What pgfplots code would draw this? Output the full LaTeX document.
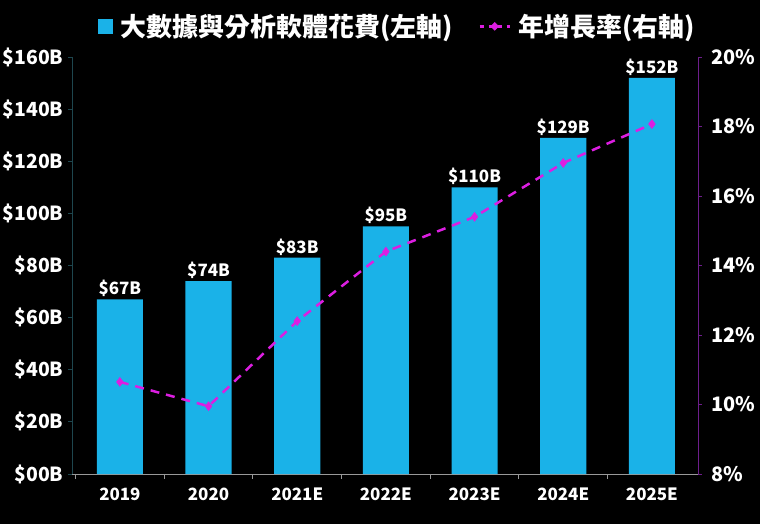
\documentclass[border=0pt]{standalone}
\usepackage{pgfplots}
\pgfplotsset{compat=1.18}
\usepackage{fontspec}
\setmainfont{Noto Sans CJK TC}
\definecolor{barblue}{RGB}{26,178,232}
\definecolor{growth}{RGB}{220,30,225}
\definecolor{leftax}{RGB}{30,70,78}
\definecolor{rightax}{RGB}{110,30,140}

\pgfplotstableread{
x spend
0 67
1 74
2 83
3 95
4 110
5 129
6 152
}\spendtab

\pgfplotstableread{
x rate
0 10.65
1 9.95
2 12.4
3 14.4
4 15.4
5 16.95
6 18.07
}\ratetab

\begin{document}
\begin{tikzpicture}
\fill[black] (-72bp,-50bp) rectangle (688bp,474bp);

\begin{axis}[
    at={(0,0)}, anchor=south west,
    scale only axis,
    width=626bp, height=417bp,
    xmin=-0.54, xmax=6.52,
    ymin=0, ymax=160,
    axis y line*=left,
    axis x line*=bottom,
    x axis line style={draw=gray!80, line width=0.8pt, -},
    y axis line style={draw=leftax, line width=0.8pt, -},
    xtick={0,...,6},
    xticklabels={2019,2020,2021E,2022E,2023E,2024E,2025E},
    major x tick style={draw=none},
    minor xtick={-0.5,0.5,1.5,2.5,3.5,4.5,5.5},
    minor x tick style={draw=gray!80, line width=0.8pt},
    minor tick length=5pt,
    xtick pos=bottom,
    tick align=outside,
    ytick={0,20,...,160},
    yticklabels={\$00B,\$20B,\$40B,\$60B,\$80B,\$100B,\$120B,\$140B,\$160B},
    major y tick style={draw=leftax, line width=0.8pt},
    major tick length=4pt,
    ticklabel style={text=white, font=\fontsize{19.5}{22}\selectfont\bfseries},
    x tick label style={font=\fontsize{17}{19}\selectfont\bfseries, yshift=-6pt},
    y tick label style={xshift=-1pt},
    ybar, bar width=0.52,
    nodes near coords={\$\pgfmathprintnumber[assume math mode=true]{\pgfplotspointmeta}B},
    every node near coord/.append style={text=white, font=\fontsize{17}{19}\selectfont\bfseries, yshift=-1pt},
    legend columns=2,
    legend style={at={(0.52,1.035)}, anchor=south, draw=none, fill=none,
        text=white, font=\fontsize{26}{29}\selectfont\bfseries,
        /tikz/every odd column/.append style={column sep=6pt},
        /tikz/every even column/.append style={column sep=24pt}},
    legend image code/.code={\fill[barblue] (0bp,-7.5bp) rectangle (15bp,7.5bp);},
]
\addplot[fill=barblue, draw=none] table[x=x, y=spend] {\spendtab};
\addlegendentry{大數據與分析軟體花費(左軸)}
\addlegendimage{legend image code/.code={
    \draw[growth, line width=2.5pt, dash pattern=on 4pt off 5pt] (0bp,0bp) -- (30bp,0bp);
    \fill[growth] (15bp,0bp) +(-4pt,0) -- +(0,4pt) -- +(4pt,0) -- +(0,-4pt) -- cycle;}}
\addlegendentry{年增長率(右軸)}
\end{axis}

\begin{axis}[
    at={(0,0)}, anchor=south west,
    scale only axis,
    width=626bp, height=417bp,
    xmin=-0.54, xmax=6.52,
    ymin=8, ymax=20,
    axis y line*=right,
    axis x line=none,
    y axis line style={draw=rightax, line width=0.8pt, -},
    ytick={8,10,...,20},
    yticklabels={8\%,10\%,12\%,14\%,16\%,18\%,20\%},
    major y tick style={draw=rightax, line width=0.8pt},
    major tick length=4pt,
    tick align=outside,
    ticklabel style={text=white, font=\fontsize{20}{22}\selectfont\bfseries},
    y tick label style={xshift=6pt},
]
\addplot[growth, line width=2.5pt, dash pattern=on 9pt off 7pt,
    mark=diamond*, mark size=4.5pt, mark options={solid, fill=growth, draw=growth, line width=0.5pt}]
    table[x=x, y=rate] {\ratetab};
\end{axis}

\pgfresetboundingbox
\path[use as bounding box] (-72bp,-50bp) rectangle (688bp,474bp);
\end{tikzpicture}
\end{document}
